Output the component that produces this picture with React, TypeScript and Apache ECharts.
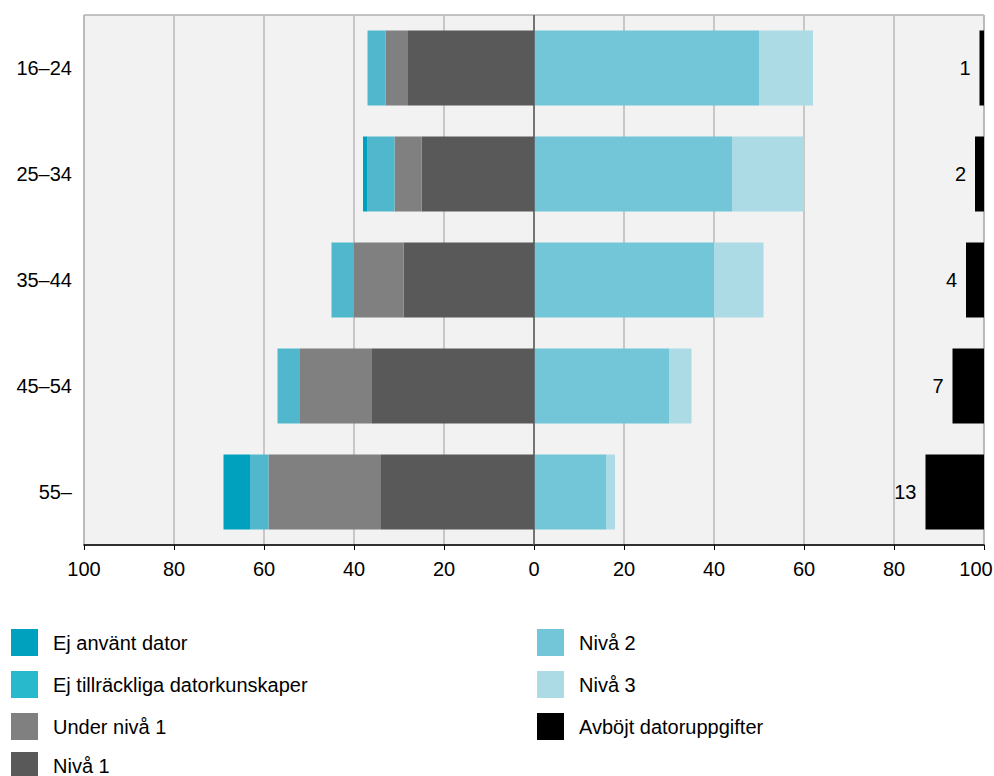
import React, { useEffect, useRef } from "react";
import * as echarts from "echarts";

const categories = ["16–24", "25–34", "35–44", "45–54", "55–"];
const ejAnvantDator = [0, 1, 0, 0, 6];
const ejTillrackliga = [4, 6, 5, 5, 4];
const underNiva1 = [5, 6, 11, 16, 25];
const niva1 = [28, 25, 29, 36, 34];
const niva2 = [50, 44, 40, 30, 16];
const niva3 = [12, 16, 11, 5, 2];
const avbojt = [1, 2, 4, 7, 13];
const xTicks = [-100, -80, -60, -40, -20, 0, 20, 40, 60, 80, 100];

const FONT = "'Liberation Sans', Arial, sans-serif";

export default function App() {
  const ref = useRef<HTMLDivElement>(null);
  useEffect(() => {
    if (!ref.current) return;
    const chart = echarts.init(ref.current, null, { renderer: "svg" });
    const neg = (a: number[]) => a.map((v) => -v);
    const filler = categories.map((_, i) => 100 - niva2[i] - niva3[i] - avbojt[i]);
    const barW = 75;
    const base = { type: "bar", stack: "s", barWidth: barW, animation: false };
    const legendText = { fontSize: 20, color: "#000", fontFamily: FONT, padding: [0, 0, 0, 10] };
    const legendBase = {
      orient: "vertical", itemWidth: 27, itemHeight: 27, itemGap: 15, padding: 0,
      icon: "rect", textStyle: legendText, selectedMode: false,
    };
    chart.setOption({
      animation: false,
      textStyle: { fontFamily: FONT },
      grid: {
        left: 84, right: 10, top: 15, bottom: 231, outerBoundsMode: "none", containLabel: false,
        show: true, backgroundColor: "#f2f2f2", borderColor: "#8c8c8c", borderWidth: 1,
      },
      xAxis: {
        type: "value", min: -100, max: 100, interval: 20,
        axisLabel: {
          fontSize: 20, color: "#000", fontFamily: FONT, margin: 14,
          formatter: (v: number) => {
            if (!xTicks.includes(v)) return "";
            if (v === 100) return "{r|100}";
            return String(Math.abs(v));
          },
          rich: { r: { fontSize: 20, color: "#000", fontFamily: FONT, padding: [0, 16, 0, 0] } },
        },
        axisLine: { show: true, onZero: false, lineStyle: { color: "#000", width: 1.5 } },
        axisTick: { show: true, length: 5, lineStyle: { color: "#000" } },
        splitLine: { show: true, lineStyle: { color: "#b8b8b8", width: 1.5 } },
      },
      yAxis: {
        type: "category", data: categories, inverse: true,
        axisLine: { show: false, onZero: false },
        axisTick: { show: false },
        axisLabel: { fontSize: 20, color: "#000", fontFamily: FONT, margin: 12 },
        splitLine: { show: false },
      },
      legend: [
        {
          ...legendBase, left: 11, top: 629,
          data: [
            { name: "Ej använt dator", itemStyle: { color: "#00a0bf" } },
            { name: "Ej tillräckliga datorkunskaper", itemStyle: { color: "#29b9cc" } },
            { name: "Under nivå 1", itemStyle: { color: "#808080" } },
          ],
        },
        {
          ...legendBase, left: 11, top: 752, height: 27,
          data: [{ name: "Nivå 1", itemStyle: { color: "#595959" } }],
        },
        {
          ...legendBase, left: 537, top: 629,
          data: [
            { name: "Nivå 2", itemStyle: { color: "#72c6d8" } },
            { name: "Nivå 3", itemStyle: { color: "#acdbe5" } },
            { name: "Avböjt datoruppgifter", itemStyle: { color: "#000" } },
          ],
        },
      ],
      series: [
        {
          ...base, name: "Nivå 1", data: neg(niva1), itemStyle: { color: "#595959" },
          markLine: {
            silent: true, symbol: "none", label: { show: false },
            lineStyle: { color: "#595959", width: 1.5, type: "solid" },
            data: [{ xAxis: 0 }],
          },
        },
        { ...base, name: "Under nivå 1", data: neg(underNiva1), itemStyle: { color: "#808080" } },
        { ...base, name: "Ej tillräckliga datorkunskaper", data: neg(ejTillrackliga), itemStyle: { color: "#50b7cd" } },
        { ...base, name: "Ej använt dator", data: neg(ejAnvantDator), itemStyle: { color: "#00a0bf" } },
        { ...base, name: "Nivå 2", data: niva2, itemStyle: { color: "#72c6d8" } },
        { ...base, name: "Nivå 3", data: niva3, itemStyle: { color: "#acdbe5" } },
        { ...base, name: "_filler", data: filler, itemStyle: { color: "transparent" }, silent: true },
        {
          ...base, name: "Avböjt datoruppgifter", data: avbojt, itemStyle: { color: "#000" },
          label: {
            show: true, position: "left", distance: 9, fontSize: 20, color: "#000", fontFamily: FONT,
          },
        },
      ],
    });
    return () => chart.dispose();
  }, []);
  return <div ref={ref} style={{ width: 994, height: 776, position: "absolute", left: 0, top: 0 }} />;
}
